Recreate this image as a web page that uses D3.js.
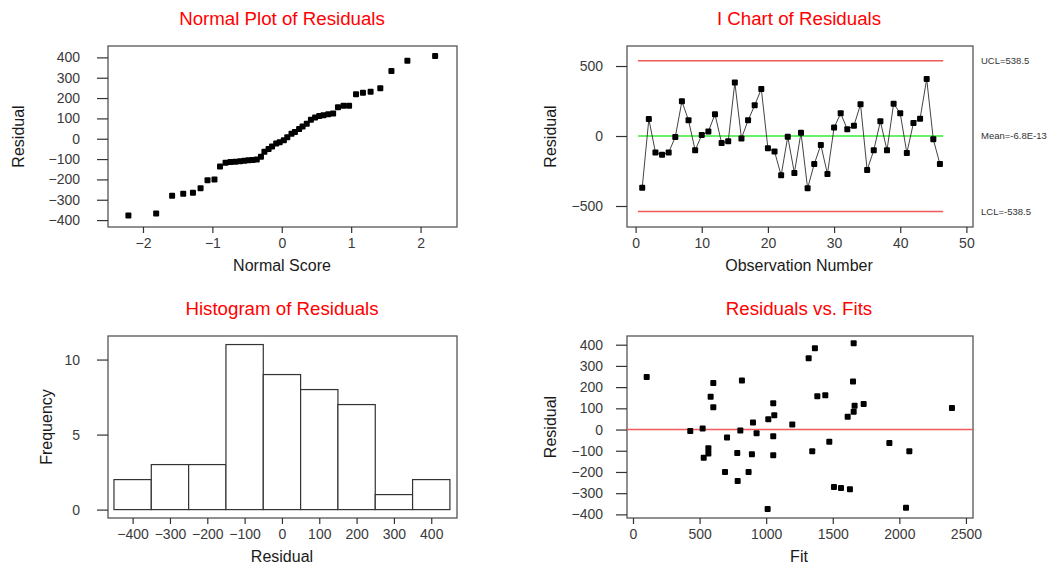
<!DOCTYPE html>
<html>
<head>
<meta charset="utf-8">
<script src="https://cdn.jsdelivr.net/npm/d3@7"></script>
<style>
  body { margin: 0; background: #fff; }
  text { font-family: "Liberation Sans", Arial, sans-serif; }
</style>
</head>
<body>
<script>
// residuals in observation order (I chart)
var residuals = [-369, 121, -117, -133, -117, -7, 248, 112, -102, 7,
                 33, 155, -50, -38, 383, -17, 112, 219, 336, -88,
                 -110, -281, -5, -264, 24, -374, -200, -64, -271, 60,
                 162, 48, 74, 226, -243, -102, 105, -102, 231, 162,
                 -121, 93, 124, 407, -24, -200];
var observations = residuals.map(function(d, i) { return i + 1; });

// control limits
var ucl = 538.5, lcl = -538.5, centerLine = 0;
var limitLabels = ["UCL=538.5", "Mean=-6.8E-13", "LCL=-538.5"];

// normal probability plot: scores and ordered residuals
var normalScores = [-2.21, -1.81, -1.58, -1.42, -1.28, -1.17, -1.07, -0.97, -0.89, -0.81,
                    -0.74, -0.67, -0.60, -0.54, -0.48, -0.42, -0.36, -0.30, -0.25, -0.19,
                    -0.14, -0.08, -0.03, 0.03, 0.08, 0.14, 0.19, 0.25, 0.30, 0.36,
                    0.42, 0.48, 0.54, 0.60, 0.67, 0.74, 0.81, 0.89, 0.97, 1.07,
                    1.17, 1.28, 1.42, 1.58, 1.81, 2.21];
var orderedResiduals = [-378, -368, -280, -270, -265, -244, -204, -201, -136, -118,
                        -115, -113, -111, -108, -106, -104, -102, -88, -64, -50,
                        -38, -24, -17, -7, 7, 24, 33, 48, 60, 74,
                        93, 105, 112, 116, 121, 124, 155, 162, 162, 219,
                        226, 231, 248, 333, 383, 407];

// histogram bins
var binStarts = [-450, -350, -250, -150, -50, 50, 150, 250, 350];
var binWidth = 100;
var binCounts = [2, 3, 3, 11, 9, 8, 7, 1, 2];

// residuals vs fits
var fitValues = [103, 430, 523, 531, 566, 566, 583, 603, 603, 706,
                 691, 783, 786, 806, 818, 868, 893, 901, 928, 1011,
                 1016, 1053, 1053, 1053, 1061, 1196, 1319, 1346, 1366, 1384,
                 1444, 1474, 1509, 1562, 1612, 1629, 1652, 1657, 1657, 1664,
                 1732, 1925, 2050, 2075, 2395];
var fitResiduals = [248, -7, 5, -133, -88, -113, 155, 219, 105, -38,
                    -200, -110, -243, -5, 231, -200, -117, 33, -17, -374,
                    48, 124, -32, -121, 67, 24, 336, -102, 383, 157,
                    162, -57, -271, -275, 60, -281, 226, 407, 84, 112,
                    121, -64, -369, -102, 102];

// axis ticks
var normalXTicks = [-2, -1, 0, 1, 2];
var residTicks = [-400, -300, -200, -100, 0, 100, 200, 300, 400];
var ichartYTicks = [-500, 0, 500];
var ichartXTicks = [0, 10, 20, 30, 40, 50];
var freqTicks = [0, 5, 10];
var fitTicks = [0, 500, 1000, 1500, 2000, 2500];

var svg = d3.select("body").append("svg")
    .attr("width", 1055)
    .attr("height", 569)
    .style("background", "#fff");

// draws the frame, axes and titles of one panel, returns its scales
function makePanel(cfg) {
  var g = svg.append("g");
  var x = d3.scaleLinear().domain(cfg.xDomain).range([cfg.left, cfg.right]);
  var y = d3.scaleLinear().domain(cfg.yDomain).range([cfg.bottom, cfg.top]);

  g.append("rect")
      .attr("x", cfg.left)
      .attr("y", cfg.top)
      .attr("width", cfg.right - cfg.left)
      .attr("height", cfg.bottom - cfg.top)
      .attr("fill", "none")
      .attr("stroke", "#555")
      .attr("stroke-width", 1.3);

  var yAxis = g.append("g")
      .attr("transform", "translate(" + cfg.left + ",0)")
      .call(d3.axisLeft(y).tickValues(cfg.yTicks).tickSize(11)
            .tickPadding(cfg.yPad).tickFormat(d3.format("d")));
  var xAxis = g.append("g")
      .attr("transform", "translate(0," + cfg.bottom + ")")
      .call(d3.axisBottom(x).tickValues(cfg.xTicks).tickSize(6)
            .tickPadding(5).tickFormat(d3.format("d")));

  [yAxis, xAxis].forEach(function(a) {
    a.select(".domain").remove();
    a.selectAll("line").attr("stroke", "#333").attr("stroke-width", 1.2);
    a.selectAll("text")
        .attr("fill", "#3a3a3a")
        .style("font-size", "14px")
        .style("font-family", "'Liberation Sans', Arial, sans-serif");
  });

  // title
  g.append("text")
      .attr("x", cfg.titleX)
      .attr("y", cfg.top - 21)
      .attr("text-anchor", "middle")
      .attr("fill", "#ff0000")
      .style("font-size", "18.7px")
      .text(cfg.title);
  // x axis label
  g.append("text")
      .attr("x", cfg.titleX)
      .attr("y", cfg.bottom + 44)
      .attr("text-anchor", "middle")
      .attr("fill", "#1a1a1a")
      .style("font-size", "16px")
      .text(cfg.xLabel);
  // y axis label
  g.append("text")
      .attr("transform", "translate(" + cfg.yLabelX + "," + ((cfg.top + cfg.bottom) / 2) + ") rotate(-90)")
      .attr("text-anchor", "middle")
      .attr("dy", "0.35em")
      .attr("fill", "#1a1a1a")
      .style("font-size", "16px")
      .text(cfg.yLabel);

  return {g: g, x: x, y: y};
}

// black square symbols
function squares(p, xs, ys) {
  p.g.selectAll(".pt")
    .data(xs)
    .enter().append("rect")
      .attr("x", function(d) { return p.x(d) - 3; })
      .attr("y", function(d, i) { return p.y(ys[i]) - 3; })
      .attr("width", 6)
      .attr("height", 6)
      .attr("rx", 1)
      .attr("fill", "#000");
}

// Normal plot of residuals
var p1 = makePanel({
  left: 108, right: 457, top: 46, bottom: 227,
  xDomain: [-2.504, 2.525], yDomain: [-434, 456],
  xTicks: normalXTicks, yTicks: residTicks, yPad: 17,
  title: "Normal Plot of Residuals", titleX: 282,
  xLabel: "Normal Score", yLabel: "Residual", yLabelX: 18
});
squares(p1, normalScores, orderedResiduals);

// I chart of residuals
var p2 = makePanel({
  left: 627, right: 973, top: 46, bottom: 227,
  xDomain: [-1.3, 51.0], yDomain: [-650, 643],
  xTicks: ichartXTicks, yTicks: ichartYTicks, yPad: 13,
  title: "I Chart of Residuals", titleX: 799,
  xLabel: "Observation Number", yLabel: "Residual", yLabelX: 550
});
var limits = [ucl, centerLine, lcl];
p2.g.selectAll(".limit")
  .data(limits)
  .enter().append("line")
    .attr("x1", p2.x(0.35))
    .attr("x2", p2.x(46.5))
    .attr("y1", function(d) { return p2.y(d); })
    .attr("y2", function(d) { return p2.y(d); })
    .attr("stroke", function(d) { return d === centerLine ? "#33ee33" : "#f05a5a"; })
    .attr("stroke-width", 1.5);
p2.g.selectAll(".limitLabel")
  .data(limits)
  .enter().append("text")
    .attr("x", 981)
    .attr("y", function(d) { return p2.y(d); })
    .attr("dy", "0.35em")
    .attr("fill", "#333")
    .style("font-size", "9.5px")
    .text(function(d, i) { return limitLabels[i]; });
p2.g.append("path")
    .datum(residuals)
    .attr("fill", "none")
    .attr("stroke", "#444")
    .attr("stroke-width", 1)
    .attr("d", d3.line()
        .x(function(d, i) { return p2.x(observations[i]); })
        .y(function(d) { return p2.y(d); }));
squares(p2, observations, residuals);

// Histogram of residuals
var p3 = makePanel({
  left: 108, right: 457, top: 336, bottom: 518,
  xDomain: [-466, 469], yDomain: [-0.56, 11.57],
  xTicks: residTicks, yTicks: freqTicks, yPad: 17,
  title: "Histogram of Residuals", titleX: 282,
  xLabel: "Residual", yLabel: "Frequency", yLabelX: 46
});
p3.g.selectAll(".bar")
  .data(binCounts)
  .enter().append("rect")
    .attr("x", function(d, i) { return p3.x(binStarts[i]); })
    .attr("y", function(d) { return p3.y(d); })
    .attr("width", function(d, i) { return p3.x(binStarts[i] + binWidth) - p3.x(binStarts[i]); })
    .attr("height", function(d) { return p3.y(0) - p3.y(d); })
    .attr("fill", "#fff")
    .attr("stroke", "#333")
    .attr("stroke-width", 1.2);

// Residuals vs fits
var p4 = makePanel({
  left: 627, right: 973, top: 336, bottom: 518,
  xDomain: [-45, 2553], yDomain: [-417, 441],
  xTicks: fitTicks, yTicks: residTicks, yPad: 13,
  title: "Residuals vs. Fits", titleX: 799,
  xLabel: "Fit", yLabel: "Residual", yLabelX: 550
});
p4.g.append("line")
    .attr("x1", 627)
    .attr("x2", 973)
    .attr("y1", p4.y(0))
    .attr("y2", p4.y(0))
    .attr("stroke", "#f05a5a")
    .attr("stroke-width", 1.5);
squares(p4, fitValues, fitResiduals);
</script>
</body>
</html>
